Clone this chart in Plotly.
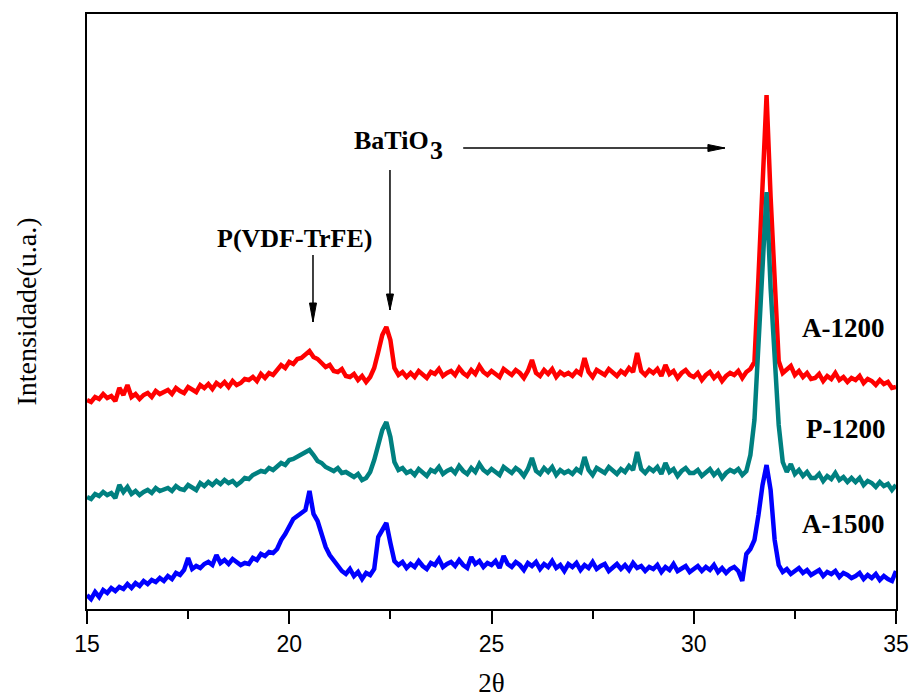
import numpy as np
import plotly.graph_objects as go

# 2-theta sampling grid (degrees), 0.1 deg steps from 15 to 35
two_theta = np.round(np.arange(15.0, 35.0001, 0.1), 1)

# Intensities (a.u.)
a1200 = [
    209, 207, 212, 210, 215, 211, 213, 208, 221, 214,
    224, 212, 215, 210, 214, 216, 212, 218, 215, 217,
    219, 215, 221, 218, 216, 222, 220, 217, 224, 221,
    225, 220, 226, 223, 227, 222, 228, 224, 226, 230,
    229, 232, 228, 235, 231, 236, 234, 239, 244, 241,
    247, 245, 250, 251, 255, 258, 252, 250, 246, 242,
    244, 238, 237, 240, 233, 232, 235, 229, 233, 227,
    232, 241, 257, 274, 282, 269, 241, 234, 237, 232,
    236, 232, 238, 234, 231, 237, 235, 240, 233, 236,
    238, 234, 241, 236, 233, 239, 235, 243, 237, 234,
    238, 235, 232, 240, 237, 234, 239, 236, 231, 238,
    249, 236, 233, 239, 235, 240, 232, 237, 234, 236,
    233, 238, 235, 251, 237, 232, 239, 236, 234, 240,
    236, 233, 238, 235, 241, 237, 256, 238, 234, 239,
    236, 240, 233, 244, 235, 238, 231, 236, 239, 234,
    232, 236, 229, 234, 237, 231, 235, 228, 233, 236,
    234, 238, 231, 237, 240, 247, 332, 424, 514, 412,
    330, 248, 236, 239, 243, 234, 238, 232, 236, 230,
    231, 235, 228, 233, 230, 236, 229, 232, 227, 231,
    229, 233, 226, 230, 228, 224, 229, 225, 227, 221,
    222,
]

p1200 = [
    112, 110, 115, 113, 117, 114, 116, 111, 124, 117,
    122, 115, 118, 114, 117, 119, 116, 121, 118, 120,
    121, 118, 123, 120, 119, 124, 122, 119, 126, 123,
    127, 124, 128, 125, 129, 126, 128, 124, 127, 131,
    130, 134, 136, 138, 137, 141, 139, 143, 146, 144,
    149, 150, 152, 155, 157, 159, 154, 148, 146, 142,
    140, 138, 141, 136, 137, 134, 132, 135, 129, 131,
    137, 149, 164, 179, 187, 172, 147, 139, 141, 136,
    138, 134, 140, 136, 133, 139, 137, 142, 135, 138,
    140, 136, 143, 138, 135, 141, 137, 145, 139, 136,
    140, 137, 134, 142, 139, 136, 141, 138, 133, 140,
    151, 138, 135, 141, 137, 142, 134, 139, 136, 138,
    135, 140, 137, 152, 139, 134, 141, 138, 136, 142,
    138, 135, 140, 137, 143, 139, 157, 140, 136, 141,
    138, 142, 135, 146, 137, 140, 133, 138, 141, 136,
    136, 139, 133, 137, 140, 134, 138, 131, 136, 139,
    137, 140, 134, 138, 154, 189, 259, 328, 417, 321,
    251, 184, 147, 137, 145, 135, 139, 133, 137, 131,
    131, 135, 128, 133, 130, 136, 129, 132, 127, 131,
    127, 131, 124, 128, 126, 122, 127, 123, 125, 119,
    124,
]

a1500 = [
    14, 10, 17, 12, 19, 16, 21, 18, 22, 20,
    25, 21, 26, 23, 28, 25, 29, 27, 31, 28,
    33, 30, 36, 34, 39, 51, 40, 43, 41, 45,
    47, 44, 54, 46, 49, 45, 50, 47, 44, 46,
    45, 51, 49, 55, 53, 57, 56, 60, 69, 75,
    82, 90, 93, 96, 99, 118, 95, 88, 73, 62,
    54, 48, 42, 38, 35, 40, 33, 37, 30, 36,
    34, 40, 72, 80, 86, 66, 48, 44, 47, 41,
    45, 42, 48, 43, 40, 46, 44, 50, 42, 45,
    47, 43, 49, 44, 41, 52, 45, 48, 42, 46,
    44, 48, 41, 53, 45, 42, 47, 44, 39, 46,
    43, 47, 40, 45, 42, 48, 41, 44, 38, 45,
    42, 46, 39, 44, 41, 47, 40, 43, 45, 38,
    42, 45, 40, 44, 39, 46, 41, 43, 38, 42,
    40, 44, 37, 42, 39, 45, 38, 41, 43, 37,
    40, 43, 38, 42, 39, 44, 37, 41, 36, 40,
    42, 38, 28, 55, 60, 69, 94, 124, 144, 119,
    69, 44, 37, 40, 35, 38, 41, 36, 39, 34,
    36, 39, 33, 37, 35, 38, 32, 36, 34, 31,
    33, 36, 30, 34, 31, 35, 29, 33, 30, 28,
    38,
]

series_names = ["A-1200", "P-1200", "A-1500"]
series_colors = ["#FF0000", "#008080", "#0000FF"]
x_ticks = [15, 20, 25, 30, 35]

SERIF = "Liberation Serif, Times New Roman, serif"
SANS = "Liberation Sans, Arial, sans-serif"

fig = go.Figure()
for name, ys, col in zip(series_names, [a1200, p1200, a1500], series_colors):
    fig.add_trace(go.Scatter(x=two_theta, y=ys, mode="lines", name=name,
                             line=dict(color=col, width=4.5), showlegend=False))

# sample labels
label_y = [281, 180, 85]
for name, yy in zip(series_names, label_y):
    fig.add_annotation(x=34.78, y=yy, xref="x", yref="y", text="<b>%s</b>" % name,
                       showarrow=False, xanchor="right", yanchor="middle",
                       font=dict(family=SERIF, size=27, color="black"))

fig.add_annotation(x=20.14, y=371, xref="x", yref="y", text="<b>P(VDF-TrFE)</b>",
                   showarrow=False, xanchor="center", yanchor="middle",
                   font=dict(family=SERIF, size=26, color="black"))
fig.add_annotation(x=21.55, y=469, xref="x", yref="y", text="<b>BaTiO</b>",
                   showarrow=False, xanchor="left", yanchor="middle",
                   font=dict(family=SERIF, size=26, color="black"))
fig.add_annotation(x=23.43, y=459, xref="x", yref="y", text="<b>3</b>",
                   showarrow=False, xanchor="left", yanchor="middle",
                   font=dict(family=SERIF, size=26, color="black"))

# arrows (line + filled head)
def arrow(x0, y0, x1, y1, head_base_x, head_base_y, half_w_x, half_w_y):
    fig.add_shape(type="line", x0=x0, y0=y0, x1=x1, y1=y1, xref="x", yref="y",
                  line=dict(color="black", width=1.5))
    path = "M %f,%f L %f,%f L %f,%f Z" % (x1, y1, head_base_x - half_w_x, head_base_y - half_w_y,
                                          head_base_x + half_w_x, head_base_y + half_w_y)
    fig.add_shape(type="path", path=path, xref="x", yref="y",
                  fillcolor="black", line=dict(color="black", width=1))

px = 40.45  # pixels per degree
arrow(20.587, 354, 20.587, 287, 20.587, 306, 3.5 / px, 0)
arrow(22.49, 439, 22.49, 299, 22.49, 315, 3.5 / px, 0)
arrow(24.30, 461, 30.77, 461, 30.35, 461, 0, 3.5)

fig.update_layout(
    width=911, height=698,
    margin=dict(l=87, r=15, t=14, b=89),
    paper_bgcolor="white", plot_bgcolor="white",
    xaxis=dict(range=[15, 35], tickvals=x_ticks, ticktext=[str(t) for t in x_ticks],
               ticks="outside", ticklen=13, tickwidth=2, tickcolor="black",
               minor=dict(dtick=2.5, tick0=15, ticks="outside", ticklen=8, tickwidth=2, tickcolor="black"),
               showline=True, linecolor="black", linewidth=2, mirror=True,
               showgrid=False, zeroline=False, automargin=False,
               ticklabeloverflow="allow",
               tickfont=dict(family=SANS, size=23, color="black"),
               title=dict(text="2θ", font=dict(family=SERIF, size=27, color="black"), standoff=24)),
    yaxis=dict(range=[0, 595], showticklabels=False, ticks="",
               showline=True, linecolor="black", linewidth=2, mirror=True,
               showgrid=False, zeroline=False, automargin=False,
               title=dict(text="Intensidade(u.a.)", font=dict(family=SERIF, size=28, color="black"),
                          standoff=40)),
)

# remove the default 8px page margin so the figure fills the window exactly
fig.write_html("out.html", config={"displayModeBar": False},
               post_script="document.body.style.margin='0px';")
